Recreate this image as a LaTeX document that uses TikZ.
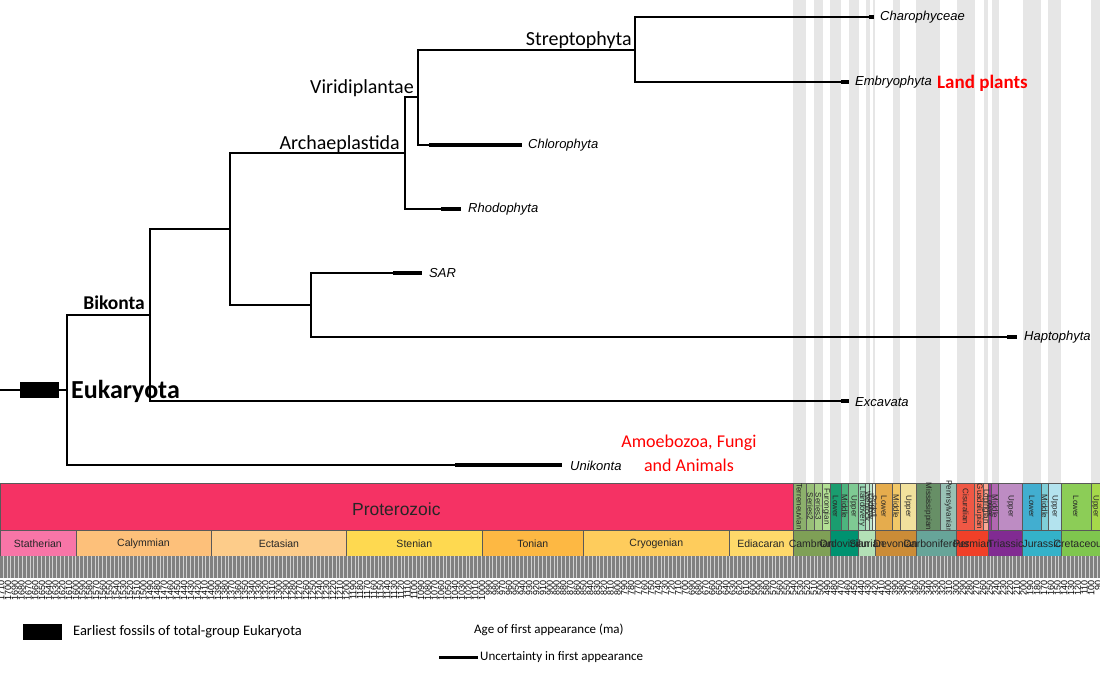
\documentclass[tikz,border=0pt]{standalone}
\usepackage{fontspec}
\setmainfont{Liberation Sans}
\newfontfamily\calfont{Carlito}
\newfontfamily\arifont{Liberation Sans}
\newcommand{\Mx}[1]{1159-0.677*(#1)}
% Proterozoic colours
\definecolor{Prot}{HTML}{F53264}
\definecolor{Stat}{HTML}{F875A7}
\definecolor{Caly}{HTML}{FDC07A}
\definecolor{Ecta}{HTML}{FDCC8A}
\definecolor{Sten}{HTML}{FED950}
\definecolor{Toni}{HTML}{FDB843}
\definecolor{Cryo}{HTML}{FECC5C}
\definecolor{Edia}{HTML}{FED96A}
% periods
\definecolor{Camb}{HTML}{7FA056}
\definecolor{Ordo}{HTML}{009270}
\definecolor{Silu}{HTML}{B3E1B6}
\definecolor{Devo}{HTML}{CB8C37}
\definecolor{Carb}{HTML}{67A599}
\definecolor{Perm}{HTML}{F04028}
\definecolor{Tria}{HTML}{812B92}
\definecolor{Jura}{HTML}{34B2C9}
\definecolor{Cret}{HTML}{7FC64E}
% epochs
\definecolor{Terr}{HTML}{8CB06C}
\definecolor{SerB}{HTML}{99C078}
\definecolor{SerC}{HTML}{A6CF86}
\definecolor{Furo}{HTML}{B3E095}
\definecolor{OrdL}{HTML}{1A9D6F}
\definecolor{OrdM}{HTML}{4DB47E}
\definecolor{OrdU}{HTML}{7FCA93}
\definecolor{Llan}{HTML}{99D7B3}
\definecolor{Wenl}{HTML}{B3E1C2}
\definecolor{Ludl}{HTML}{BFE6CF}
\definecolor{Prid}{HTML}{E6F5E1}
\definecolor{DevL}{HTML}{E5AC4D}
\definecolor{DevM}{HTML}{F1C868}
\definecolor{DevU}{HTML}{F1E19D}
\definecolor{Miss}{HTML}{678F66}
\definecolor{Penn}{HTML}{99C2B5}
\definecolor{Cisu}{HTML}{EF5845}
\definecolor{Guad}{HTML}{FB745C}
\definecolor{Lopi}{HTML}{FBA794}
\definecolor{TriL}{HTML}{983999}
\definecolor{TriM}{HTML}{B168B1}
\definecolor{TriU}{HTML}{BD8CC3}
\definecolor{JurL}{HTML}{42AED0}
\definecolor{JurM}{HTML}{80CFD8}
\definecolor{JurU}{HTML}{B3E3EE}
\definecolor{CreL}{HTML}{8CCD57}
\definecolor{CreU}{HTML}{A6D84A}
\definecolor{stripegray}{HTML}{E6E6E6}
\tikzset{
  branch/.style={line width=1.3pt, black},
  unc/.style={line width=3.5pt, black},
  tip/.style={font=\arifont\itshape\fontsize{13}{14}\selectfont, anchor=west, inner sep=0pt},
  clade/.style={font=\calfont\fontsize{20}{22}\selectfont, anchor=base east, inner sep=0pt},
  gbox/.style={draw=black!65, line width=0.5pt},
  epochlbl/.style={font=\arifont\fontsize{8}{9}\selectfont, rotate=-90, inner sep=0pt, text=black!85},
  perlbl/.style={font=\arifont\fontsize{10.5}{12}\selectfont, inner sep=0pt, text=black!85},
  axlbl/.style={font=\arifont\fontsize{9}{10}\selectfont, rotate=90, anchor=east, inner sep=0pt, text=black},
  tickline/.style={line width=0.55pt, black!50},
  legtxt/.style={font=\calfont\fontsize{13}{15}\selectfont, anchor=west, inner sep=0pt},
}
\begin{document}
\begin{tikzpicture}[x=1pt,y=-1pt]
\useasboundingbox (0,0) rectangle (1100,672);
\begin{scope}
\clip (0,0) rectangle (1100,672);
% grey stripes (alternate Phanerozoic epochs)
\foreach \a/\b in {541/521, 509/497, 485.4/470, 458.4/443.8, 433.4/427.4, 423/419.2, 393.3/382.7, 358.9/323.2, 298.9/272.3, 259.1/251.9, 247.2/237, 201.3/174.1, 163.5/145, 100.5/66}
  \fill[stripegray] ({\Mx{\a}},0) rectangle ({\Mx{\b}},483);
% Proterozoic eon
\filldraw[gbox, fill=Prot] ({\Mx{1712}},483) rectangle ({\Mx{541}},530);
\node[font=\arifont\fontsize{17.5}{20}\selectfont, text=black!85, inner sep=0pt] (prot) at ({\Mx{1126.5}},509) {Proterozoic};
% Proterozoic periods
\foreach \a/\b/\c/\t in {1712/1600/Stat/Statherian, 1600/1400/Caly/Calymmian, 1400/1200/Ecta/Ectasian, 1200/1000/Sten/Stenian, 1000/850/Toni/Tonian, 850/635/Cryo/Cryogenian, 635/541/Edia/Ediacaran}
  \filldraw[gbox, fill=\c] ({\Mx{\a}},530) rectangle ({\Mx{\b}},556);
% Phanerozoic epochs
\foreach \a/\b/\c/\t in {541/521/Terr/Terreneuvian, 521/509/SerB/Series2, 509/497/SerC/Series3, 497/485.4/Furo/Furongian, 485.4/470/OrdL/Lower, 470/458.4/OrdM/Middle, 458.4/443.8/OrdU/Upper, 443.8/433.4/Llan/Llandovery, 433.4/427.4/Wenl/Wenlock, 427.4/423/Ludl/Ludlow, 423/419.2/Prid/Pridoli, 419.2/393.3/DevL/Lower, 393.3/382.7/DevM/Middle, 382.7/358.9/DevU/Upper, 358.9/323.2/Miss/Mississippian, 323.2/298.9/Penn/Pennsylvanian, 298.9/272.3/Cisu/Cisuralian, 272.3/259.1/Guad/Guadalupian, 259.1/251.9/Lopi/Lopingian, 251.9/247.2/TriL/Lower, 247.2/237/TriM/Middle, 237/201.3/TriU/Upper, 201.3/174.1/JurL/Lower, 174.1/163.5/JurM/Middle, 163.5/145/JurU/Upper, 145/100.5/CreL/Lower, 100.5/87/CreU/Upper}
  \filldraw[gbox, fill=\c] ({\Mx{\a}},483) rectangle ({\Mx{\b}},530);
\foreach \a/\b/\c/\t in {541/521/Terr/Terreneuvian, 521/509/SerB/Series2, 509/497/SerC/Series3, 497/485.4/Furo/Furongian, 485.4/470/OrdL/Lower, 470/458.4/OrdM/Middle, 458.4/443.8/OrdU/Upper, 443.8/433.4/Llan/Llandovery, 433.4/427.4/Wenl/Wenlock, 427.4/423/Ludl/Ludlow, 423/419.2/Prid/Pridoli, 419.2/393.3/DevL/Lower, 393.3/382.7/DevM/Middle, 382.7/358.9/DevU/Upper, 358.9/323.2/Miss/Mississippian, 323.2/298.9/Penn/Pennsylvanian, 298.9/272.3/Cisu/Cisuralian, 272.3/259.1/Guad/Guadalupian, 259.1/251.9/Lopi/Lopingian, 251.9/247.2/TriL/Lower, 247.2/237/TriM/Middle, 237/201.3/TriU/Upper, 201.3/174.1/JurL/Lower, 174.1/163.5/JurM/Middle, 163.5/145/JurU/Upper, 145/100.5/CreL/Lower, 100.5/87/CreU/Upper}
  \node[epochlbl] (ep\c) at ({\Mx{(\a+\b)/2}},506.5) {\t};
% Phanerozoic periods
\foreach \a/\b/\c/\t in {541/485.4/Camb/Cambrian, 485.4/443.8/Ordo/Ordovician, 443.8/419.2/Silu/Silurian, 419.2/358.9/Devo/Devonian, 358.9/298.9/Carb/Carboniferous, 298.9/251.9/Perm/Permian, 251.9/201.3/Tria/Triassic, 201.3/145/Jura/Jurassic, 145/87/Cret/Cretaceous}
  \filldraw[gbox, fill=\c] ({\Mx{\a}},530) rectangle ({\Mx{\b}},556);
\foreach \a/\b/\c/\t in {1712/1600/Stat/Statherian, 1600/1400/Caly/Calymmian, 1400/1200/Ecta/Ectasian, 1200/1000/Sten/Stenian, 1000/850/Toni/Tonian, 850/635/Cryo/Cryogenian, 635/541/Edia/Ediacaran, 541/485.4/Camb/Cambrian, 485.4/443.8/Ordo/Ordovician, 443.8/419.2/Silu/Silurian, 419.2/358.9/Devo/Devonian, 358.9/298.9/Carb/Carboniferous, 298.9/251.9/Perm/Permian, 251.9/201.3/Tria/Triassic, 201.3/145/Jura/Jurassic, 145/87/Cret/Cretaceous}
  \node[perlbl] (pe\c) at ({\Mx{(\a+\b)/2}},544) {\t};
% axis ticks
\fill[black!18] (0,556) rectangle (1100,578);
\foreach \m in {88,90,...,1712}
  \draw[tickline] ({\Mx{\m}},556) -- ({\Mx{\m}},578);
\foreach \m in {90,100,...,1710}
  \node[axlbl] (ax\m) at ({\Mx{\m}},580) {\m};
\end{scope}
% tree
\coordinate (root) at (0,390);
\node[fill=black, minimum width=39pt, minimum height=16pt, inner sep=0pt] (fos) at (39.5,390) {};
\coordinate (euk) at (67,390);
\coordinate (bik) at (150,315);
\coordinate (ash) at (230,229);
\coordinate (arc) at (405,153);
\coordinate (vir) at (418,97);
\coordinate (str) at (635,50);
\coordinate (sh) at (311,305);
\coordinate (cha-s) at (869,17);  \coordinate (cha-e) at (874,17);
\coordinate (emb-s) at (841,82);  \coordinate (emb-e) at (849,82);
\coordinate (chl-s) at (429,145); \coordinate (chl-e) at (522,145);
\coordinate (rho-s) at (441,209); \coordinate (rho-e) at (461,209);
\coordinate (sar-s) at (393,273); \coordinate (sar-e) at (422,273);
\coordinate (hap-s) at (1007,337);\coordinate (hap-e) at (1017,337);
\coordinate (exc-s) at (841,401); \coordinate (exc-e) at (849,401);
\coordinate (uni-s) at (455,465); \coordinate (uni-e) at (562,465);
\draw[branch] (root) -- (fos.west);
\draw[branch] (fos.east) -- (euk);
\draw[branch] (euk) |- (bik);
\draw[branch] (euk) |- (uni-s);
\draw[branch] (bik) |- (ash);
\draw[branch] (bik) |- (exc-s);
\draw[branch] (ash) |- (arc);
\draw[branch] (ash) |- (sh);
\draw[branch] (arc) |- (vir);
\draw[branch] (arc) |- (rho-s);
\draw[branch] (vir) |- (str);
\draw[branch] (vir) |- (chl-s);
\draw[branch] (str) |- (cha-s);
\draw[branch] (str) |- (emb-s);
\draw[branch] (sh) |- (sar-s);
\draw[branch] (sh) |- (hap-s);
\foreach \t in {cha,emb,chl,rho,sar,hap,exc,uni}
  \draw[unc] (\t-s) -- (\t-e);
% tip labels
\node[tip] (chaL) at (880,17) {Charophyceae};
\node[tip] (embL) at (855,82) {Embryophyta};
\node[tip] (chlL) at (528,145) {Chlorophyta};
\node[tip] (rhoL) at (468,209) {Rhodophyta};
\node[tip] (sarL) at (429,273) {SAR};
\node[tip] (hapL) at (1024,337) {Haptophyta};
\node[tip] (excL) at (855,402) {Excavata};
\node[tip] (uniL) at (570,466) {Unikonta};
% clade labels
\node[clade] (strL) at (632,45) {Streptophyta};
\node[clade] (virL) at (414,93) {Viridiplantae};
\node[clade] (arcL) at (400,149) {Archaeplastida};
\node[clade, font=\calfont\bfseries\fontsize{19.5}{22}\selectfont] (bikL) at (145,309) {Bikonta};
\node[font=\calfont\bfseries\fontsize{26}{28}\selectfont, anchor=base west, inner sep=0pt] (eukL) at (71,398) {Eukaryota};
\node[font=\calfont\bfseries\fontsize{19}{22}\selectfont, text=red, anchor=base west, inner sep=0pt] (land) at (937,88) {Land plants};
\node[font=\calfont\fontsize{18}{24}\selectfont, text=red, align=center, inner sep=0pt] (amo) at (689,453) {Amoebozoa, Fungi\\and Animals};
% legend
\node[fill=black, minimum width=39pt, minimum height=16pt, inner sep=0pt] (legbox) at (42.5,632) {};
\node[legtxt, font=\calfont\fontsize{14.5}{16}\selectfont] (legL) at (73,632) {Earliest fossils of total-group Eukaryota};
\node[legtxt] (ageL) at (474,630) {Age of first appearance (ma)};
\coordinate (uncA) at (439,657);
\coordinate (uncB) at (478,657);
\draw[line width=3pt] (uncA) -- (uncB);
\node[legtxt] (uncL) at (480,657) {Uncertainty in first appearance};
\end{tikzpicture}
\end{document}
